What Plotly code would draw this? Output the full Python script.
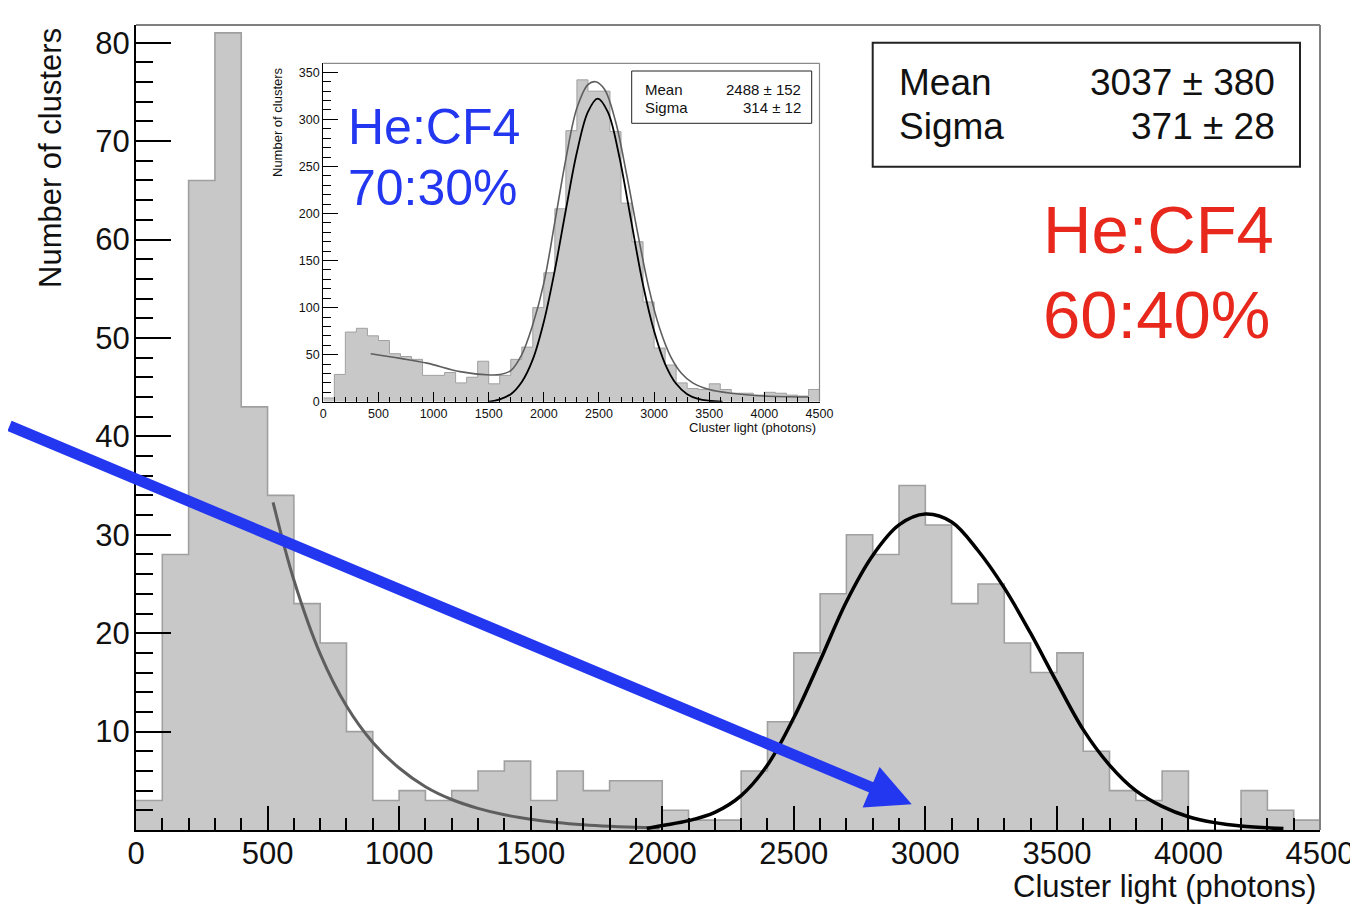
import plotly.graph_objects as go

# ---------------- data ----------------
bin_edges = list(range(0, 4600, 100))  # 0..4500, 46 edges, bins of 100 photons

main_counts = [3, 28, 66, 81, 43, 34, 23, 19, 10, 3,
               4, 3, 4, 6, 7, 3, 6, 4, 5, 5,
               2, 1, 1, 6, 11, 18, 24, 30, 28, 35,
               31, 23, 25, 19, 16, 18, 8, 4, 3, 6,
               0, 0, 4, 2, 1]

inset_counts = [4, 29, 74, 78, 70, 65, 51, 48, 45, 28,
                28, 31, 20, 26, 43, 19, 28, 45, 58, 100,
                137, 205, 288, 342, 330, 330, 287, 211, 170, 106,
                57, 39, 20, 14, 13, 19, 13, 9, 9, 7,
                10, 9, 7, 6, 13]

# fitted curves
main_expo_x = [521, 600, 700, 800, 900, 1000, 1100, 1200, 1300, 1400, 1500,
               1600, 1700, 1800, 1900, 1990]
main_expo_y = [33.3, 25.4, 17.9, 12.6, 8.9, 6.3, 4.4, 3.1, 2.2, 1.55, 1.1,
               0.77, 0.54, 0.38, 0.27, 0.2]

main_gaus_x = [1941, 2000, 2100, 2200, 2300, 2400, 2500, 2600, 2700, 2800, 2900, 3000,
               3100, 3200, 3300, 3400, 3500, 3600, 3700, 3800, 3900, 4000, 4100, 4200, 4361]
main_gaus_y = [0.15, 0.45, 0.95, 1.8, 3.5, 6.6, 11.4, 17.2, 23.2, 27.9, 31.0, 32.1,
               31.3, 28.4, 24.6, 20.0, 15.0, 10.2, 6.6, 4.0, 2.4, 1.35, 0.75, 0.4, 0.15]

inset_total_x = [430, 700, 940, 1240, 1512, 1600, 1700, 1800, 1900, 2000, 2100, 2200, 2300,
                 2400, 2470, 2550, 2650, 2750, 2850, 2950, 3050, 3150, 3250, 3350, 3500,
                 3700, 4000, 4400]
inset_total_y = [51, 46, 41, 32, 28.4, 28.8, 33, 50, 82, 126, 191, 258, 312,
                 337, 340, 332, 298, 242, 180, 122, 78, 48, 30, 20, 13,
                 9, 6, 5]

inset_gaus_x = [1500, 1600, 1700, 1800, 1900, 2000, 2100, 2200, 2300, 2400, 2488, 2580,
                2680, 2780, 2900, 3000, 3100, 3200, 3300, 3400, 3500, 3620]
inset_gaus_y = [0, 2.5, 8, 21, 45, 85, 140, 204, 265, 308, 322, 308,
                263, 200, 124, 75, 40, 19, 8, 3, 1, 0]

main_stats = [("Mean", "3037 ± 380"), ("Sigma", "371 ± 28")]
inset_stats = [("Mean", "2488 ± 152"), ("Sigma", "314 ± 12")]
x_title = "Cluster light (photons)"
y_title = "Number of clusters"
red_label = ["He:CF4", "60:40%"]
blue_label = ["He:CF4", "70:30%"]

# ---------------- layout helpers ----------------
# the page body has an 8px margin, so everything is drawn 8px right/down
W, H = 1350, 901
L, R, T, B = 128, 38, 17, 79
PW, PH = W - L - R, H - T - B          # 1184 x 805
REF_LEFT, REF_BOTTOM = 136, 830        # plot area corner in window pixels


def PX(px):
    return (px - REF_LEFT) / PW


def PY(py):
    return (REF_BOTTOM - py) / PH


FONT = "Liberation Sans, Arial, Helvetica, sans-serif"
HIST_FILL = "#c8c8c8"
HIST_LINE = "#a0a0a0"
BLUE = "#2336f0"
RED = "#e8281c"


def step_y(counts):
    return counts + [counts[-1]]


fig = go.Figure()

# main histogram
fig.add_trace(go.Scatter(x=bin_edges, y=step_y(main_counts), mode="lines",
                         line=dict(shape="hv", color=HIST_LINE, width=1.6),
                         fill="tozeroy", fillcolor=HIST_FILL,
                         xaxis="x", yaxis="y", hoverinfo="skip"))
fig.add_trace(go.Scatter(x=main_expo_x, y=main_expo_y, mode="lines",
                         line=dict(shape="spline", color="#5e5e5e", width=3),
                         xaxis="x", yaxis="y"))
fig.add_trace(go.Scatter(x=main_gaus_x, y=main_gaus_y, mode="lines",
                         line=dict(shape="spline", color="black", width=3.5),
                         xaxis="x", yaxis="y"))

# inset histogram
fig.add_trace(go.Scatter(x=bin_edges, y=step_y(inset_counts), mode="lines",
                         line=dict(shape="hv", color=HIST_LINE, width=1),
                         fill="tozeroy", fillcolor=HIST_FILL,
                         xaxis="x2", yaxis="y2", hoverinfo="skip"))
fig.add_trace(go.Scatter(x=inset_total_x, y=inset_total_y, mode="lines",
                         line=dict(shape="spline", color="#5e5e5e", width=1.6),
                         xaxis="x2", yaxis="y2"))
fig.add_trace(go.Scatter(x=inset_gaus_x, y=inset_gaus_y, mode="lines",
                         line=dict(shape="spline", color="black", width=1.8),
                         xaxis="x2", yaxis="y2"))

tickfont_main = dict(family=FONT, size=31, color="#111")
tickfont_inset = dict(family=FONT, size=12.5, color="#111")

fig.update_layout(
    width=W, height=H,
    margin=dict(l=L, r=R, t=T, b=B, pad=0, autoexpand=False),
    paper_bgcolor="white", plot_bgcolor="white",
    showlegend=False,
    font=dict(family=FONT, color="#111"),
    xaxis=dict(domain=[0, 1], range=[0, 4500], anchor="y", automargin=False,
               showline=True, linecolor="black", linewidth=2,
               ticks="inside", ticklen=24, tickwidth=2, tickcolor="black",
               tickmode="linear", tick0=0, dtick=500, ticklabelstandoff=-5,
               ticklabeloverflow="allow",
               minor=dict(ticks="inside", ticklen=12, tickwidth=2, tickcolor="black",
                          tick0=0, dtick=100),
               showgrid=False, zeroline=False, tickfont=tickfont_main),
    yaxis=dict(domain=[0, 1], range=[0, 81.8], anchor="x", automargin=False,
               showline=True, linecolor="black", linewidth=2,
               ticks="inside", ticklen=35, tickwidth=2, tickcolor="black",
               tickmode="linear", tick0=0, dtick=10, labelalias={"0": " "},
               ticklabelstandoff=-2,
               minor=dict(ticks="inside", ticklen=17, tickwidth=2, tickcolor="black",
                          tick0=0, dtick=2),
               showgrid=False, zeroline=False, tickfont=tickfont_main),
    xaxis2=dict(domain=[PX(323.3), PX(819.5)], range=[0, 4500], anchor="y2",
                automargin=False,
                showline=True, linecolor="black", linewidth=1.3,
                ticks="inside", ticklen=10, tickwidth=1, tickcolor="black",
                tickmode="linear", tick0=0, dtick=500,
                minor=dict(ticks="inside", ticklen=5, tickwidth=1, tickcolor="black",
                           tick0=0, dtick=100),
                showgrid=False, zeroline=False, tickfont=tickfont_inset),
    yaxis2=dict(domain=[PY(401.7), PY(63.3)], range=[0, 359.6], anchor="x2",
                automargin=False,
                showline=True, linecolor="black", linewidth=1.3,
                ticks="inside", ticklen=15, tickwidth=1, tickcolor="black",
                tickmode="linear", tick0=0, dtick=50,
                minor=dict(ticks="inside", ticklen=8, tickwidth=1, tickcolor="black",
                           tick0=0, dtick=10),
                showgrid=False, zeroline=False, tickfont=tickfont_inset),
)

shapes = []
# frame top/right edges (gray) of main plot and inset
shapes.append(dict(type="line", xref="paper", yref="paper", x0=0, x1=1, y0=1, y1=1,
                   line=dict(color="#808080", width=2)))
shapes.append(dict(type="line", xref="paper", yref="paper", x0=1, x1=1, y0=0, y1=1,
                   line=dict(color="#808080", width=2)))
shapes.append(dict(type="line", xref="paper", yref="paper", x0=PX(323.3), x1=PX(819.5),
                   y0=PY(63.3), y1=PY(63.3), line=dict(color="#8a8a8a", width=1.2)))
shapes.append(dict(type="line", xref="paper", yref="paper", x0=PX(819.5), x1=PX(819.5),
                   y0=PY(401.7), y1=PY(63.3), line=dict(color="#8a8a8a", width=1.2)))
# stats boxes
shapes.append(dict(type="rect", xref="paper", yref="paper", x0=PX(872.7), x1=PX(1300),
                   y0=PY(166.7), y1=PY(42.7), line=dict(color="#222", width=2),
                   fillcolor="white", layer="above"))
shapes.append(dict(type="rect", xref="paper", yref="paper", x0=PX(631.7), x1=PX(811.7),
                   y0=PY(123.3), y1=PY(71), line=dict(color="#222", width=1),
                   fillcolor="white", layer="above"))
fig.update_layout(shapes=shapes)

ann = []


def text(s, px, py, size, xanchor="left", yanchor="middle", color="#111", angle=0):
    ann.append(dict(text=s, x=PX(px), y=PY(py), xref="paper", yref="paper",
                    xanchor=xanchor, yanchor=yanchor, showarrow=False, textangle=angle,
                    font=dict(family=FONT, size=size, color=color)))


# main axis titles
text(x_title, 1318, 886, 31, xanchor="right")
text(y_title, 50, 26, 31, xanchor="center", yanchor="top", angle=-90)
# inset axis titles
text(x_title, 818, 427, 13, xanchor="right")
text(y_title, 278, 65, 13, xanchor="center", yanchor="top", angle=-90)
# main stats
for i, (k, v) in enumerate(main_stats):
    yy = 82.7 + 44 * i
    text(k, 896.7, yy, 37)
    text(v, 1277.3, yy, 37, xanchor="right")
# inset stats
for i, (k, v) in enumerate(inset_stats):
    yy = 89 + 18 * i
    text(k, 643, yy, 15)
    text(v, 803.3, yy, 15, xanchor="right")
# gas mixture labels
text(red_label[0], 1041, 229.5, 67, color=RED)
text(red_label[1], 1041, 314, 67, color=RED)
text(blue_label[0], 346, 127.5, 50, color=BLUE)
text(blue_label[1], 346, 188, 50, color=BLUE)

# blue arrow
ann.append(dict(x=PX(911.7), y=PY(804.3), xref="paper", yref="paper",
                ax=-940, ay=-379, axref="pixel", ayref="pixel", text="",
                showarrow=True, arrowhead=2, arrowsize=0.8, arrowwidth=11,
                arrowcolor=BLUE))

fig.update_layout(annotations=ann)

fig.write_html("out.html")
